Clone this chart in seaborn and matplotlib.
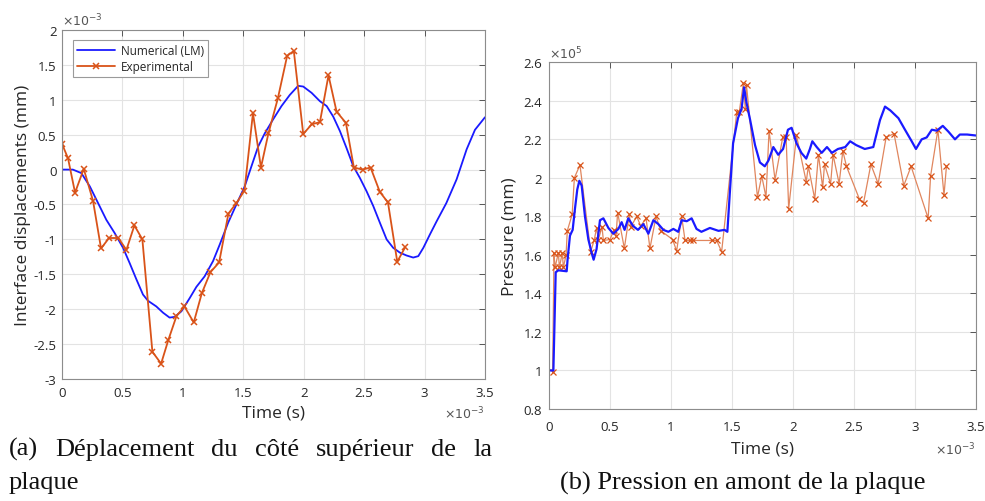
import matplotlib
matplotlib.use("Agg")
import matplotlib.pyplot as plt
import seaborn as sns
import pandas as pd

# ---------------- data ----------------
# (a) interface displacement, time in x1e-3 s, displacement in x1e-3 mm
num_a_t = [0, 0.09, 0.16, 0.23, 0.31, 0.367, 0.436, 0.505, 0.56, 0.615, 0.67, 0.712, 0.78, 0.836,
           0.89, 0.933, 0.988, 1.057, 1.112, 1.18, 1.25, 1.306, 1.375, 1.443, 1.512, 1.568, 1.623,
           1.678, 1.747, 1.816, 1.885, 1.954, 1.996, 2.065, 2.134, 2.19, 2.244, 2.30, 2.354, 2.41,
           2.465, 2.52, 2.575, 2.63, 2.686, 2.74, 2.796, 2.85, 2.906, 2.948, 2.99, 3.044, 3.10,
           3.18, 3.265, 3.348, 3.417, 3.5]
num_a_d = [0, 0, -0.05, -0.24, -0.52, -0.72, -0.91, -1.12, -1.34, -1.57, -1.79, -1.88, -1.96, -2.05,
           -2.12, -2.11, -2.03, -1.84, -1.68, -1.53, -1.31, -1.07, -0.76, -0.50, -0.24, 0.05, 0.33,
           0.52, 0.72, 0.91, 1.07, 1.20, 1.19, 1.10, 0.98, 0.91, 0.76, 0.55, 0.31, 0.05,
           -0.12, -0.31, -0.52, -0.76, -1.00, -1.12, -1.19, -1.23, -1.26, -1.24, -1.12, -0.93, -0.74,
           -0.48, -0.14, 0.29, 0.57, 0.75]
exp_a_t = [0, 0.05, 0.108, 0.18, 0.257, 0.323, 0.389, 0.466, 0.533, 0.599, 0.665, 0.748, 0.82, 0.88,
           0.947, 1.013, 1.09, 1.157, 1.228, 1.30, 1.377, 1.443, 1.51, 1.58, 1.646, 1.708, 1.786,
           1.863, 1.918, 1.996, 2.067, 2.134, 2.205, 2.272, 2.349, 2.415, 2.487, 2.553, 2.63, 2.697,
           2.774, 2.84]
exp_a_d = [0.37, 0.16, -0.33, 0.01, -0.45, -1.13, -0.98, -0.98, -1.15, -0.80, -1.00, -2.61, -2.78, -2.44,
           -2.10, -1.96, -2.19, -1.77, -1.47, -1.33, -0.63, -0.48, -0.30, 0.81, 0.03, 0.52, 1.02,
           1.63, 1.70, 0.51, 0.65, 0.68, 1.35, 0.83, 0.67, 0.03, 0.00, 0.03, -0.32, -0.47,
           -1.32, -1.11]

# (b) upstream pressure, time in x1e-3 s, pressure in x1e5
num_b_t = [0, 0.036, 0.055, 0.077, 0.145, 0.153, 0.172, 0.194, 0.213, 0.232, 0.249, 0.268, 0.295,
           0.323, 0.35, 0.366, 0.39, 0.418, 0.446, 0.487, 0.528, 0.569, 0.596, 0.62, 0.65, 0.69,
           0.73, 0.774, 0.815, 0.856, 0.897, 0.938, 0.979, 1.02, 1.06, 1.088, 1.13, 1.17, 1.21,
           1.25, 1.32, 1.39, 1.44, 1.463, 1.485, 1.51, 1.55, 1.58, 1.60, 1.62, 1.65, 1.69, 1.73,
           1.77, 1.80, 1.84, 1.88, 1.92, 1.96, 1.99, 2.03, 2.07, 2.11, 2.14, 2.16, 2.196, 2.237,
           2.28, 2.32, 2.37, 2.43, 2.47, 2.52, 2.59, 2.66, 2.715, 2.756, 2.80, 2.866, 2.92, 2.975,
           3.01, 3.057, 3.098, 3.14, 3.18, 3.23, 3.276, 3.33, 3.37, 3.43, 3.5]
num_b_p = [1.0, 1.0, 1.51, 1.52, 1.515, 1.58, 1.70, 1.73, 1.84, 1.94, 1.985, 1.96, 1.80,
           1.68, 1.61, 1.575, 1.63, 1.78, 1.79, 1.74, 1.71, 1.735, 1.77, 1.73, 1.79, 1.75,
           1.73, 1.76, 1.71, 1.78, 1.76, 1.73, 1.72, 1.735, 1.72, 1.78, 1.775, 1.79, 1.735,
           1.72, 1.74, 1.725, 1.73, 1.72, 1.94, 2.18, 2.31, 2.36, 2.47, 2.39, 2.30, 2.17, 2.08,
           2.06, 2.09, 2.16, 2.12, 2.15, 2.25, 2.26, 2.18, 2.13, 2.10, 2.15, 2.19, 2.16, 2.13,
           2.16, 2.13, 2.15, 2.16, 2.19, 2.17, 2.15, 2.16, 2.30, 2.37, 2.35, 2.31, 2.25, 2.19,
           2.15, 2.20, 2.21, 2.25, 2.245, 2.27, 2.24, 2.20, 2.225, 2.225, 2.22]
exp_b_t = [0.03, 0.041, 0.049, 0.077, 0.085, 0.109, 0.118, 0.14, 0.15, 0.19, 0.208, 0.254, 0.342,
           0.372, 0.39, 0.405, 0.435, 0.446, 0.50, 0.533, 0.55, 0.563, 0.618, 0.659, 0.67, 0.72,
           0.752, 0.796, 0.828, 0.878, 0.916, 1.014, 1.047, 1.088, 1.116, 1.157, 1.18, 1.334,
           1.375, 1.416, 1.54, 1.56, 1.594, 1.61, 1.62, 1.71, 1.745, 1.78, 1.805, 1.854, 1.917,
           1.945, 1.966, 2.03, 2.11, 2.127, 2.18, 2.21, 2.245, 2.26, 2.31, 2.33, 2.38, 2.41, 2.44,
           2.546, 2.58, 2.64, 2.70, 2.765, 2.83, 2.91, 2.97, 3.11, 3.13, 3.19, 3.24, 3.26]
exp_b_p = [0.99, 1.61, 1.535, 1.61, 1.535, 1.61, 1.535, 1.60, 1.725, 1.81, 2.0, 2.067, 1.617,
           1.68, 1.74, 1.68, 1.745, 1.675, 1.68, 1.73, 1.70, 1.82, 1.634, 1.81, 1.745, 1.80,
           1.75, 1.79, 1.634, 1.80, 1.726, 1.68, 1.62, 1.80, 1.675, 1.675, 1.675, 1.675,
           1.675, 1.617, 2.34, 2.34, 2.49, 2.36, 2.48, 1.90, 2.01, 1.90, 2.245, 1.99, 2.21,
           2.21, 1.84, 2.22, 1.98, 2.06, 1.89, 2.12, 1.95, 2.07, 1.97, 2.12, 1.97, 2.14, 2.06,
           1.89, 1.87, 2.07, 1.97, 2.21, 2.23, 1.96, 2.06, 1.79, 2.01, 2.25, 1.91, 2.06]

x_ticks = [0, 0.5, 1, 1.5, 2, 2.5, 3, 3.5]
x_tick_labels = ["0", "0.5", "1", "1.5", "2", "2.5", "3", "3.5"]
ya_ticks = [-3, -2.5, -2, -1.5, -1, -0.5, 0, 0.5, 1, 1.5, 2]
ya_tick_labels = ["-3", "-2.5", "-2", "-1.5", "-1", "-0.5", "0", "0.5", "1", "1.5", "2"]
yb_ticks = [0.8, 1.0, 1.2, 1.4, 1.6, 1.8, 2.0, 2.2, 2.4, 2.6]
yb_tick_labels = ["0.8", "1", "1.2", "1.4", "1.6", "1.8", "2", "2.2", "2.4", "2.6"]

cap_a_line1 = "(a) Déplacement du côté supérieur de la"
cap_a_line2 = "plaque"
cap_b = "(b) Pression en amont de la plaque"

# ---------------- style ----------------
sns.set_style("white")
plt.rcParams["font.family"] = ["Open Sans", "DejaVu Sans"]
plt.rcParams["axes.unicode_minus"] = False

BLUE = "#1a1aff"
ORANGE = "#d95319"
TXT = "#262626"
GRID = "#e3e3e3"
SPINE = "#8c8c8c"

W, H = 985, 502
fig = plt.figure(figsize=(W / 100, H / 100), dpi=100)

def px_axes(x0, y0, x1, y1):
    return fig.add_axes([x0 / W, 1 - y1 / H, (x1 - x0) / W, (y1 - y0) / H])

ax_a = px_axes(62, 31, 485, 380)
ax_b = px_axes(549, 63.3, 975.7, 410)

def style(ax, yt, ytl, xpad, ypad):
    ax.set_xlim(0, 3.5)
    ax.set_xticks(x_ticks)
    ax.set_xticklabels(x_tick_labels)
    ax.set_yticks(yt)
    ax.set_yticklabels(ytl)
    ax.set_ylim(yt[0], yt[-1])
    ax.grid(True, color=GRID, linewidth=0.8)
    ax.set_axisbelow(True)
    for s in ax.spines.values():
        s.set_color(SPINE)
        s.set_linewidth(0.8)
    ax.tick_params(direction="in", top=True, right=True, length=4, width=0.7,
                   color="#555555", labelcolor=TXT, labelsize=9.5)
    ax.tick_params(axis="x", pad=xpad)
    ax.tick_params(axis="y", pad=ypad)

# (a)
df_na = pd.DataFrame({"t": num_a_t, "d": num_a_d})
df_ea = pd.DataFrame({"t": exp_a_t, "d": exp_a_d})
sns.lineplot(data=df_na, x="t", y="d", ax=ax_a, color=BLUE, linewidth=1.3, sort=False,
             estimator=None, label="Numerical (LM)")
sns.lineplot(data=df_ea, x="t", y="d", ax=ax_a, color=ORANGE, linewidth=1.3, sort=False,
             estimator=None, marker="x", markersize=5, markeredgewidth=1.1,
             markeredgecolor=ORANGE, label="Experimental")
style(ax_a, ya_ticks, ya_tick_labels, 5, 4)
ax_a.set_xlabel("Time (s)", fontsize=12.5, color=TXT, labelpad=4)
ax_a.set_ylabel("Interface displacements (mm)", fontsize=12.5, color=TXT, labelpad=2)
leg = ax_a.legend(loc="upper left", bbox_to_anchor=(0.012, 0.988), fontsize=8.5,
                  frameon=True, fancybox=False, edgecolor="#9a9a9a", framealpha=1,
                  handlelength=3.2, borderpad=0.35, labelspacing=0.25, handletextpad=0.5)
leg.get_frame().set_linewidth(0.8)
for t in leg.get_texts():
    t.set_color(TXT)
ax_a.text(0, 1.005, r"$\times10^{-3}$", transform=ax_a.transAxes, fontsize=9,
          color="#555555", ha="left", va="bottom")
ax_a.text(1.0, -0.075, r"$\times10^{-3}$", transform=ax_a.transAxes, fontsize=9,
          color="#555555", ha="right", va="top")

# (b)
df_nb = pd.DataFrame({"t": num_b_t, "p": num_b_p})
df_eb = pd.DataFrame({"t": exp_b_t, "p": exp_b_p})
sns.lineplot(data=df_eb, x="t", y="p", ax=ax_b, color="#e0865e", linewidth=0.9, sort=False,
             estimator=None, marker="x", markersize=4, markeredgewidth=0.9,
             markeredgecolor=ORANGE)
sns.lineplot(data=df_nb, x="t", y="p", ax=ax_b, color=BLUE, linewidth=1.6, sort=False,
             estimator=None)
style(ax_b, yb_ticks, yb_tick_labels, 8, 5)
ax_b.set_xlabel("Time (s)", fontsize=12.5, color=TXT, labelpad=5)
ax_b.set_ylabel("Pressure (mm)", fontsize=12.5, color=TXT, labelpad=4)
ax_b.text(0, 1.003, r"$\times10^{5}$", transform=ax_b.transAxes, fontsize=9,
          color="#555555", ha="left", va="bottom")
ax_b.text(1.0, -0.09, r"$\times10^{-3}$", transform=ax_b.transAxes, fontsize=9,
          color="#555555", ha="right", va="top")

# captions
CAP = dict(family=["Liberation Serif", "DejaVu Serif"], fontsize=19, color="#111111")
fig.canvas.draw()
r = fig.canvas.get_renderer()
words = cap_a_line1.split()
tx = [fig.text(0, 1 - 456 / H, w, ha="left", va="baseline", **CAP) for w in words]
widths = [t.get_window_extent(r).width for t in tx]
x0, x1 = 9, 492
gap = (x1 - x0 - sum(widths)) / (len(words) - 1)
x = x0
for t, wd in zip(tx, widths):
    t.set_x(x / W)
    x += wd + gap
fig.text(x0 / W, 1 - 489 / H, cap_a_line2, ha="left", va="baseline", **CAP)
fig.text(743 / W, 1 - 490 / H, cap_b, ha="center", va="baseline", **CAP)

fig.savefig("out.png", dpi=100)
